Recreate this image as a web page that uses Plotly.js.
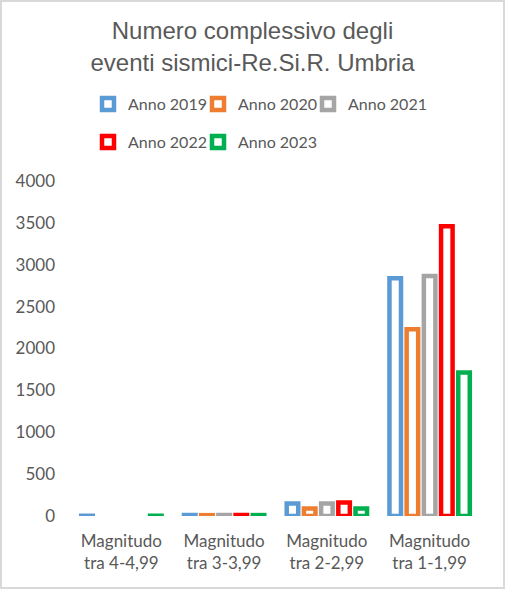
<!DOCTYPE html>
<html>
<head>
<meta charset="utf-8">
<script src="https://cdn.plot.ly/plotly-3.0.1.min.js"></script>
<style>
  html, body { margin: 0; padding: 0; background: #d9d9d9; }
  #chart { position: absolute; left: 2px; top: 2px; width: 501px; height: 585px; background: #fff; }
</style>
</head>
<body>
<div id="chart"></div>
<script>
const categories = ["Magnitudo<br>tra 4-4,99", "Magnitudo<br>tra 3-3,99", "Magnitudo<br>tra 2-2,99", "Magnitudo<br>tra 1-1,99"];
const seriesNames = ["Anno 2019", "Anno 2020", "Anno 2021", "Anno 2022", "Anno 2023"];
const anno2019 = [3, 12, 150, 2840];
const anno2020 = [null, 10, 90, 2230];
const anno2021 = [null, 12, 150, 2866];
const anno2022 = [null, 12, 160, 3460];
const anno2023 = [3, 11, 90, 1713];
const seriesColors = ["#5B9BD5", "#ED7D31", "#A5A5A5", "#FF0000", "#00B050"];
const yTicks = [0, 500, 1000, 1500, 2000, 2500, 3000, 3500, 4000];

const legendIds = ["legend", "legend2", "legend3", "legend4", "legend5"];
const allValues = [anno2019, anno2020, anno2021, anno2022, anno2023];
const traces = allValues.map((vals, i) => ({
  type: "bar",
  name: seriesNames[i],
  x: categories,
  y: vals,
  marker: { color: "#ffffff", line: { color: seriesColors[i], width: 4.5 } },
  legend: legendIds[i],
  hoverinfo: "x+y+name"
}));

const legendFont = { family: "Lato, 'Open Sans', sans-serif", size: 16, color: "#595959" };
// legend box positions (px inside the chart div)
const legendPos = [[86, 85], [196, 85], [306, 85], [86, 123], [196, 123]];

const layout = {
  width: 501,
  height: 585,
  margin: { l: 68, r: 22, t: 179, b: 71 },
  paper_bgcolor: "#ffffff",
  plot_bgcolor: "#ffffff",
  barmode: "group",
  bargap: 0.163,
  bargroupgap: 0.33,
  title: {
    text: "Numero complessivo degli<br>eventi sismici-Re.Si.R. Umbria",
    font: { family: "'Liberation Sans', Arial, sans-serif", size: 24, color: "#595959" },
    x: 0.5, xanchor: "center",
    y: 0.936, yanchor: "top", yref: "container"
  },
  showlegend: true,
  xaxis: {
    type: "category",
    showgrid: false, zeroline: false, showline: false, ticks: "",
    tickfont: { family: "Lato, 'Open Sans', sans-serif", size: 17, color: "#595959" },
    ticklabelstandoff: 13
  },
  yaxis: {
    range: [0, 4000],
    tickvals: yTicks,
    ticktext: yTicks.map(String),
    showgrid: false, zeroline: false, showline: false, ticks: "",
    tickfont: { family: "Lato, 'Open Sans', sans-serif", size: 17, color: "#595959" },
    ticklabelstandoff: 14
  }
};
legendIds.forEach((id, i) => {
  layout[id] = {
    orientation: "h", xref: "container", yref: "container",
    x: legendPos[i][0] / 501, xanchor: "left",
    y: 1 - legendPos[i][1] / 585, yanchor: "top",
    font: legendFont, bgcolor: "rgba(0,0,0,0)", itemwidth: 30
  };
});

Plotly.newPlot("chart", traces, layout, { displayModeBar: false, staticPlot: true });
</script>
</body>
</html>
